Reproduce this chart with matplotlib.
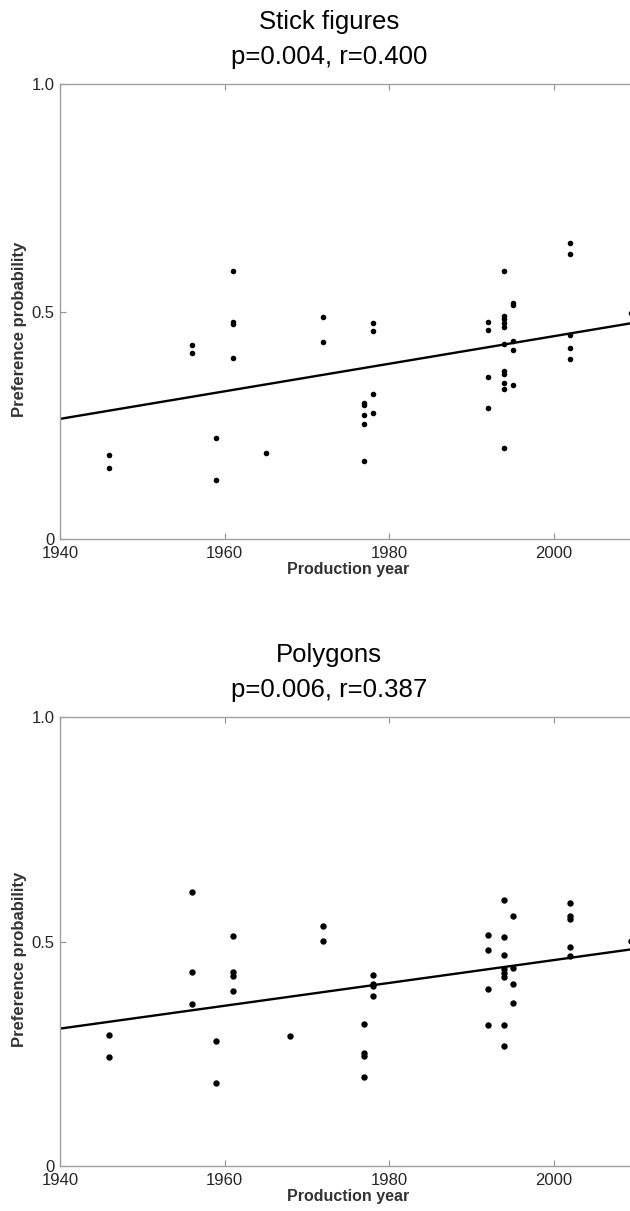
import numpy as np
import matplotlib
matplotlib.use("Agg")
import matplotlib.pyplot as plt

plt.rcParams['font.family'] = ['Liberation Sans', 'DejaVu Sans']

# stick figures panel
stick_year = [1946, 1946, 1956, 1956, 1959, 1959, 1961, 1961, 1961, 1961, 1965,
              1972, 1972, 1977, 1977, 1977, 1977, 1977, 1978, 1978, 1978, 1978,
              1992, 1992, 1992, 1992, 1994, 1994, 1994, 1994, 1994, 1994, 1994,
              1994, 1994, 1994, 1994, 1995, 1995, 1995, 1995, 1995,
              2002, 2002, 2002, 2002, 2002, 2009.4]
stick_pref = [0.184, 0.155, 0.426, 0.409, 0.223, 0.130, 0.588, 0.478, 0.472, 0.397, 0.190,
              0.487, 0.432, 0.300, 0.294, 0.273, 0.253, 0.171, 0.474, 0.458, 0.319, 0.277,
              0.478, 0.459, 0.357, 0.289, 0.590, 0.490, 0.484, 0.474, 0.465, 0.429, 0.370,
              0.363, 0.342, 0.329, 0.199, 0.519, 0.514, 0.436, 0.415, 0.338,
              0.650, 0.626, 0.448, 0.420, 0.395, 0.497]
stick_fit = [0.264, 0.476]   # fitted line at 1940 and 2010

# polygons panel
poly_year = [1946, 1946, 1956, 1956, 1956, 1959, 1959, 1961, 1961, 1961, 1961, 1968,
             1972, 1972, 1977, 1977, 1977, 1977, 1978, 1978, 1978, 1978,
             1992, 1992, 1992, 1992, 1994, 1994, 1994, 1994, 1994, 1994, 1994, 1994,
             1995, 1995, 1995, 1995, 2002, 2002, 2002, 2002, 2002, 2009.4]
poly_pref = [0.292, 0.243, 0.611, 0.431, 0.360, 0.279, 0.184, 0.512, 0.431, 0.424, 0.390, 0.289,
             0.534, 0.502, 0.317, 0.251, 0.245, 0.199, 0.426, 0.406, 0.400, 0.378,
             0.515, 0.482, 0.395, 0.314, 0.592, 0.509, 0.469, 0.438, 0.430, 0.421, 0.314, 0.267,
             0.557, 0.440, 0.406, 0.363, 0.585, 0.557, 0.551, 0.488, 0.467, 0.502]
poly_fit = [0.306, 0.484]

fit_years = [1940, 2010]
xticks = [1940, 1960, 1980, 2000]

W, H = 630, 1211
fig = plt.figure(figsize=(W / 100, H / 100), dpi=100)

panels = [
    ("Stick figures", "p=0.004, r=0.400", stick_year, stick_pref, stick_fit, 84, 539, 4.0),
    ("Polygons", "p=0.006, r=0.387", poly_year, poly_pref, poly_fit, 717, 1166, 4.6),
]

for title, stats, yrs, pref, fit, top, bot, ms in panels:
    ax = fig.add_axes([60 / W, 1 - bot / H, 576 / W, (bot - top) / H])
    ax.plot(yrs, pref, 'o', color='black', ms=ms, mew=0)
    ax.plot(fit_years, fit, '-', color='black', lw=1.7)
    ax.set_xlim(1940, 2010)
    ax.set_ylim(0, 1)
    ax.set_xticks(xticks)
    ax.set_yticks([0, 0.5, 1.0])
    ax.set_yticklabels(['0', '0.5', '1.0'])
    for s in ax.spines.values():
        s.set_color('#a0a0a0')
        s.set_linewidth(1.0)
    ax.tick_params(direction='in', length=4, width=0.8, color='#909090',
                   top=True, right=True, labelsize=12, labelcolor='#262626')
    ax.tick_params(axis='x', pad=5)
    ax.tick_params(axis='y', pad=4)
    ax.set_xlabel("Production year", fontsize=11.5, fontweight='bold', color='#333333', labelpad=1)
    ax.set_ylabel("Preference probability", fontsize=12, fontweight='bold', color='#333333')
    ax.yaxis.set_label_coords(-0.057, 0.46)
    fig.text(329 / W, 1 - (top - 62) / H, title, ha='center', va='center', fontsize=18.5)
    fig.text(329 / W, 1 - (top - 27) / H, stats, ha='center', va='center', fontsize=18.5)

fig.savefig("out.png", dpi=100, facecolor='white')
